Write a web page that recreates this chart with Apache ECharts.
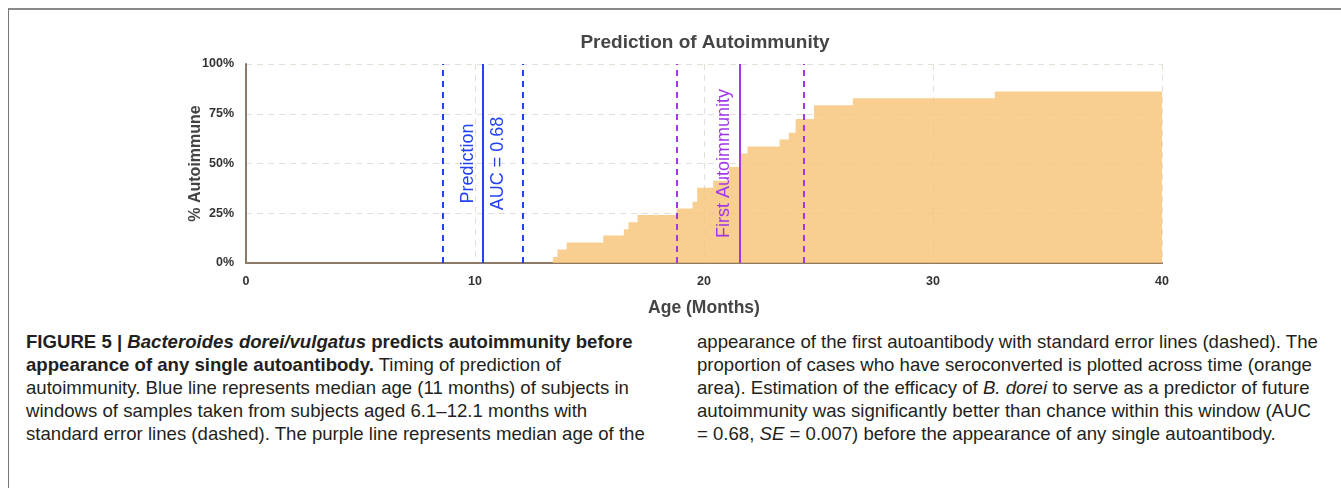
<!DOCTYPE html>
<html>
<head>
    <meta charset="UTF-8">
    <title>Prediction of Autoimmunity</title>
    <script src="https://cdn.jsdelivr.net/npm/echarts@6/dist/echarts.min.js"></script>
    <style type="text/css">
        html, body {
            margin: 0;
            padding: 0;
            width: 1341px;
            height: 488px;
            overflow: hidden;
            background: #fff;
        }
        #frame {
            position: absolute;
            left: 8px;
            top: 8px;
            right: 0;
            bottom: 0;
            border-top: 2px solid #8a8a8a;
            border-left: 1px solid #777;
        }
        #main {
            position: absolute;
            left: 0;
            top: 0;
            width: 1341px;
            height: 325px;
        }
        .cap {
            position: absolute;
            top: 330px;
            font-family: "Liberation Sans", Arial, sans-serif;
            font-size: 18.6px;
            line-height: 23px;
            color: #231f20;
            white-space: nowrap;
        }
        #capL { left: 26px; }
        #capR { left: 697px; }
    </style>
</head>
<body>
<div id="frame"></div>
<div id="main"></div>
<div class="cap" id="capL">
    <b>FIGURE 5 | <i>Bacteroides dorei/vulgatus</i> predicts autoimmunity before</b><br>
    <b>appearance of any single autoantibody.</b> Timing of prediction of<br>
    autoimmunity. Blue line represents median age (11 months) of subjects in<br>
    windows of samples taken from subjects aged 6.1–12.1 months with<br>
    standard error lines (dashed). The purple line represents median age of the
</div>
<div class="cap" id="capR">
    appearance of the first autoantibody with standard error lines (dashed). The<br>
    proportion of cases who have seroconverted is plotted across time (orange<br>
    area). Estimation of the efficacy of <i>B. dorei</i> to serve as a predictor of future<br>
    autoimmunity was significantly better than chance within this window (AUC<br>
    = 0.68, <i>SE</i> = 0.007) before the appearance of any single autoantibody.
</div>
<script>
    // age (months) where the proportion steps up, and the proportion from there on
    var stepAges = [0, 13.4, 13.6, 14.0, 15.6, 16.5, 16.7, 17.1, 18.8, 19.5, 19.7, 20.4, 21.1, 21.6, 21.9, 23.3, 23.7, 24.0, 24.8, 26.5, 32.7, 40];
    var pctAutoimmune = [0, 3.0, 6.8, 10.3, 13.8, 17.0, 20.5, 24.1, 27.4, 30.8, 37.8, 41.3, 48.3, 55.0, 58.5, 62.1, 65.5, 72.4, 79.3, 82.8, 86.2, 86.2];

    // prediction window (blue) and first autoantibody (purple): low SE, median, high SE
    var predictionAges = [8.6, 10.35, 12.1];
    var firstAbAges = [18.8, 21.55, 24.35];
    var aucLabel = 'AUC = 0.68';

    var xTicks = [0, 10, 20, 30, 40];
    var yTicks = [0, 25, 50, 75, 100];

    var blue = '#2343f2';
    var purple = '#a236ea';
    var font = 'Liberation Sans, Arial, sans-serif';

    var stepData = stepAges.map(function (a, i) { return [a, pctAutoimmune[i]]; });

    function vline(x, color, dashed) {
        return {
            xAxis: x,
            lineStyle: { color: color, width: 2, type: dashed ? [6, 5] : 'solid' },
            label: { show: false }
        };
    }
    function vlabel(x, color, text, side) {
        return {
            xAxis: x,
            lineStyle: { color: color, width: 2, type: 'solid' },
            label: {
                show: true,
                formatter: text,
                position: side,
                color: color,
                fontSize: 18,
                fontFamily: font,
                distance: 6
            }
        };
    }

    var myChart = echarts.init(document.getElementById('main'), null, { renderer: 'canvas' });
    var option = {
        animation: false,
        title: {
            text: 'Prediction of Autoimmunity',
            left: 700,
            top: 28,
            textAlign: 'center',
            textStyle: {
                fontFamily: font,
                fontSize: 19,
                fontWeight: 'bold',
                color: '#454545'
            }
        },
        grid: { left: 246, right: 179, top: 64, bottom: 62 },
        xAxis: {
            type: 'value',
            min: 0,
            max: 40,
            interval: 10,
            name: 'Age (Months)',
            nameLocation: 'middle',
            nameGap: 36,
            nameTextStyle: { fontFamily: font, fontSize: 17.5, fontWeight: 'bold', color: '#444' },
            axisLine: { lineStyle: { color: '#8d7a66', width: 2 } },
            axisTick: { show: false },
            axisLabel: {
                margin: 12,
                fontFamily: font,
                fontSize: 12.5,
                fontWeight: 'bold',
                color: '#333',
                formatter: function (v) { return xTicks.indexOf(v) >= 0 ? String(v) : ''; }
            },
            splitLine: { show: true, lineStyle: { color: '#e6dfd6', type: [6, 5], width: 1 } }
        },
        yAxis: {
            type: 'value',
            min: 0,
            max: 100,
            interval: 25,
            name: '% Autoimmune',
            nameLocation: 'middle',
            nameGap: 42,
            nameMoveOverlap: false,
            nameTextStyle: { fontFamily: font, fontSize: 16, fontWeight: 'bold', color: '#444' },
            axisLine: { show: true, lineStyle: { color: '#8d7a66', width: 2 } },
            axisTick: { show: false },
            axisLabel: {
                margin: 12,
                fontFamily: font,
                fontSize: 12.5,
                fontWeight: 'bold',
                color: '#333',
                formatter: function (v) { return yTicks.indexOf(v) >= 0 ? v + '%' : ''; }
            },
            splitLine: { show: true, lineStyle: { color: '#e6dfd6', type: [6, 5], width: 1 } }
        },
        series: [{
            name: 'Autoimmune',
            type: 'line',
            step: 'end',
            data: stepData,
            symbol: 'none',
            lineStyle: { width: 0 },
            areaStyle: { color: '#f6c376', opacity: 0.8 },
            z: 2,
            markLine: {
                silent: true,
                symbol: ['none', 'none'],
                data: [
                    vline(predictionAges[0], blue, true),
                    vline(predictionAges[2], blue, true),
                    vlabel(predictionAges[1], blue, 'Prediction', 'insideMiddleTop'),
                    vlabel(predictionAges[1], blue, aucLabel, 'insideMiddleBottom'),
                    vline(firstAbAges[0], purple, true),
                    vline(firstAbAges[2], purple, true),
                    vlabel(firstAbAges[1], purple, 'First Autoimmunity', 'insideMiddleTop')
                ]
            }
        }]
    };
    myChart.setOption(option);
</script>
</body>
</html>
